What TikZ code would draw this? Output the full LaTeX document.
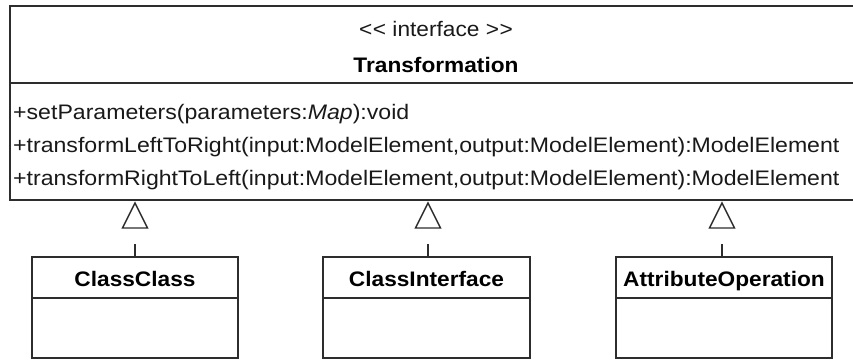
\documentclass[tikz,border=0pt]{standalone}
\usepackage{fontspec}
\setmainfont{Liberation Sans}[FakeStretch=1.1]
\newfontfamily\boldstretch{Liberation Sans Bold}[FakeStretch=1.08]
\newfontfamily\stereofont{Liberation Sans}[FakeStretch=1.08]
\usetikzlibrary{calc}
\definecolor{linec}{RGB}{45,45,45}
\tikzset{
  umlbox/.style={draw=linec, line width=1.6pt, inner sep=0pt, fill=white},
  optext/.style={anchor=base west, inner sep=0pt, font=\fontsize{21}{21}\selectfont, text=black!90},
  nametext/.style={anchor=base, inner sep=0pt, font=\fontsize{21}{21}\boldstretch, text=black},
  stereo/.style={anchor=base, inner sep=0pt, font=\fontsize{21}{21}\stereofont, text=black!90},
  sepline/.style={draw=linec, line width=1.6pt},
  gen/.style={draw=linec, line width=1.4pt, line join=miter, fill=white},
  stem/.style={draw=linec, line width=1.4pt}
}
\begin{document}
\begin{tikzpicture}[x=1pt,y=-1pt]
\useasboundingbox (0,0) rectangle (853,360);
% interface box
\node[umlbox, minimum width=852pt, minimum height=194pt] (iface) at (436,103) {};
\draw[sepline] (iface.west |- 0,83) -- (iface.east |- 0,83);
\node[stereo] (st) at (436,36) {<\kern0.5pt< interface >\kern0.5pt>};
\node[nametext] (nm) at (436,72) {Transformation};
\node[optext] (op1) at (13,119) {+setParameters(parameters:\textit{Map}):void};
\node[optext] (op2) at (13,152) {+transformLeftToRight(input:ModelElement,output:ModelElement):ModelElement};
\node[optext] (op3) at (13,185) {+transformRightToLeft(input:ModelElement,output:ModelElement):ModelElement};
% class boxes
\node[umlbox, minimum width=206pt, minimum height=101pt] (cc) at (135,307.5) {};
\node[umlbox, minimum width=207pt, minimum height=101pt] (ci) at (426.5,307.5) {};
\node[umlbox, minimum width=216pt, minimum height=101pt] (ao) at (724,307.5) {};
\foreach \b in {cc,ci,ao}{\draw[sepline] (\b.west |- 0,298) -- (\b.east |- 0,298);}
\node[nametext] (ccn) at (135,286) {ClassClass};
\node[nametext] (cin) at (426.5,286) {ClassInterface};
\node[nametext] (aon) at (724,286) {AttributeOperation};
% generalisation triangles
\coordinate (t1) at (135,203);
\coordinate (t2) at (428,203);
\coordinate (t3) at (722,203);
\foreach \t in {t1,t2,t3}{\draw[gen] (\t) -- ++(-12.5,25) -- ++(25,0) -- cycle;}
% stems
\draw[stem] (cc.north) -- ++(0,-12);
\draw[stem] (ci.north -| t2) -- ++(0,-12);
\draw[stem] (ao.north -| t3) -- ++(0,-12);
\end{tikzpicture}
\end{document}
